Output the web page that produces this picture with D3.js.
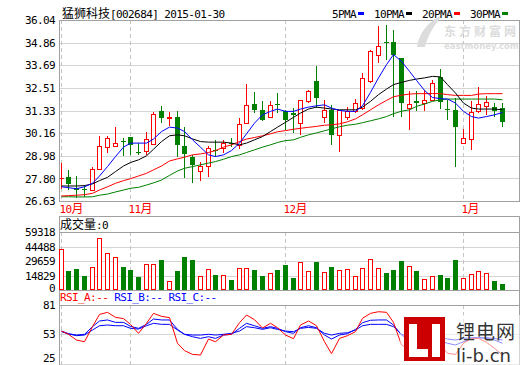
<!DOCTYPE html>
<html>
<head>
<meta charset="utf-8">
<script src="https://cdn.jsdelivr.net/npm/d3@7"></script>
<style>
body{margin:0;background:#fff}
svg{display:block}
text{font-family:"DejaVu Sans Mono",monospace;font-size:11px;letter-spacing:-0.6px}
.cjk{font-family:"Noto Sans CJK SC",sans-serif;font-size:12px;letter-spacing:0}
</style>
</head>
<body>
<svg id="chart" width="520" height="365"></svg>
<script>
//title and legend
var stockName = "猛狮科技";
var stockCode = "[002684] 2015-01-30";
var maNames = ["5PMA", "10PMA", "20PMA", "30PMA"];

//month labels and the index of the first trading day of each month
var monthLabels = ["10", "11", "12", "1"];
var monthStart = [0, 9, 29, 52];

//daily prices, one value per trading day
var open = [27.80,27.87,27.28,27.25,27.18,28.31,29.46,29.50,29.73,29.95,
            29.20,29.24,29.60,31.32,30.97,31.02,29.48,28.91,28.18,28.44,
            29.30,29.37,29.67,29.55,30.71,31.69,31.37,30.99,31.65,31.29,
            31.22,30.71,31.81,32.85,30.99,31.37,30.04,31.01,31.32,31.46,
            32.85,34.24,34.90,34.88,34.07,31.46,31.81,31.72,31.89,33.08,
            31.43,31.37,29.64,29.85,31.29,31.58,31.51,31.46];
var close = [27.85,27.50,27.18,27.21,28.30,29.50,29.90,29.64,29.71,29.53,
             29.12,29.85,31.17,30.97,31.02,29.55,29.06,28.51,28.45,29.38,
             29.27,29.67,29.64,30.63,31.63,31.37,30.85,31.63,31.62,30.85,
             31.11,31.86,32.33,31.98,31.37,30.04,31.35,31.32,31.72,33.03,
             34.41,34.67,34.87,34.24,31.72,31.67,31.72,31.89,32.77,31.79,
             31.39,30.50,29.90,31.25,31.67,31.78,31.29,30.76];
var high = [28.61,28.25,27.93,27.46,28.38,30.02,30.02,30.50,29.89,29.98,
            29.64,30.24,31.25,31.55,31.24,31.32,30.49,29.03,28.64,29.48,
            29.81,29.81,29.89,30.94,32.73,32.30,31.81,31.84,32.24,31.37,
            31.48,31.89,32.42,33.64,31.89,31.63,31.37,31.53,31.93,33.29,
            34.50,35.72,35.78,35.54,34.08,32.33,32.33,32.42,32.94,33.50,
            31.89,31.98,30.37,31.81,32.56,32.07,31.75,31.72];
var low = [27.25,27.20,26.79,26.86,27.15,28.25,29.12,29.43,28.95,29.03,
           29.03,29.03,29.55,30.68,30.54,28.94,27.85,27.57,27.67,27.90,
           28.94,29.13,29.44,29.31,30.68,31.20,30.80,30.94,31.20,30.33,
           30.17,30.04,31.72,31.48,30.68,29.55,29.18,30.85,31.20,31.37,
           32.77,33.81,33.98,31.02,31.02,30.33,31.29,31.29,31.81,31.43,
           30.85,28.42,29.62,29.29,31.20,31.11,31.02,30.47];
var volume = [41600,19400,21150,14300,23200,52900,37500,33400,23500,20450,
              13300,26600,26600,30700,8900,19400,33750,30700,14000,21150,
              15300,15000,10200,22200,22200,20450,14300,17400,20450,25550,
              12300,28650,19400,28650,18400,23500,20450,21500,14300,22500,
              31700,22500,17400,20450,29650,24550,19400,11250,14300,15300,
              12300,30700,12300,16350,19400,17400,9200,6100];

//moving averages
var ma5 = [27.37,27.32,27.27,27.37,27.55,27.93,28.42,28.94,29.43,29.64,
           29.64,29.64,29.85,30.24,30.47,30.42,30.24,29.81,29.43,29.03,
           28.94,29.03,29.25,29.64,30.12,30.68,31.11,31.29,31.41,31.29,
           31.29,31.41,31.51,31.58,31.63,31.46,31.34,31.29,31.29,31.58,
           32.28,33.03,33.72,34.24,33.89,33.37,32.90,32.38,32.01,31.95,
           31.93,31.72,31.29,31.02,30.94,31.02,31.11,31.23];
var ma10 = [27.41,27.41,27.41,27.43,27.52,27.69,27.86,28.16,28.45,28.63,
            28.77,28.98,29.32,29.72,30.02,30.07,30.02,29.86,29.72,29.69,
            29.69,29.69,29.64,29.55,29.64,29.81,29.98,30.24,30.47,30.72,
            30.98,31.20,31.41,31.51,31.46,31.41,31.37,31.37,31.37,31.51,
            31.81,32.16,32.45,32.68,32.80,32.90,32.97,33.03,33.11,33.08,
            32.68,32.24,31.72,31.46,31.41,31.41,31.41,31.37];
var ma20 = [26.89,26.91,26.93,26.96,27.03,27.20,27.37,27.55,27.69,27.79,
            27.93,28.07,28.25,28.45,28.71,28.82,28.91,29.03,29.08,29.15,
            29.25,29.43,29.55,29.72,29.85,29.93,30.02,30.12,30.23,30.29,
            30.36,30.41,30.46,30.51,30.57,30.59,30.64,30.75,30.90,31.11,
            31.37,31.63,31.86,32.05,32.13,32.19,32.21,32.21,32.22,32.21,
            32.16,32.12,32.12,32.12,32.19,32.21,32.21,32.21];
var ma30 = [26.85,26.85,26.84,26.84,26.85,26.93,26.99,27.10,27.20,27.29,
            27.34,27.46,27.57,27.72,27.96,28.19,28.33,28.42,28.51,28.60,
            28.68,28.80,28.94,29.03,29.15,29.29,29.43,29.55,29.67,29.77,
            29.81,29.94,30.07,30.17,30.28,30.38,30.49,30.57,30.62,30.70,
            30.80,30.90,31.02,31.17,31.30,31.37,31.55,31.67,31.81,31.89,
            31.93,31.93,31.93,31.93,31.93,31.93,31.93,31.89];

//rsi lines
var rsiA = [56.1,53.0,47.5,45.9,60.3,72.0,74.0,69.2,68.0,62.5,
            53.9,63.5,73.0,70.2,68.9,44.4,37.4,33.8,33.2,48.5,
            45.9,52.3,53.0,64.1,71.4,67.0,59.0,63.5,59.3,52.3,
            48.8,61.9,65.7,61.2,45.9,34.5,49.1,51.7,55.5,68.3,
            73.0,74.6,74.0,64.4,42.8,38.0,36.4,34.8,36.4,42.8,
            34.8,33.8,44.4,49.1,49.1,45.3,39.6,33.2];
var rsiB = [56.1,53.6,52.3,53.0,60.3,65.7,66.7,64.4,64.4,60.6,
            58.7,62.5,67.6,66.7,66.7,57.7,53.0,50.7,49.1,50.7,
            49.1,52.3,53.0,58.7,63.5,61.2,58.7,60.3,58.7,55.5,
            53.9,59.3,61.2,59.3,52.3,48.5,52.3,53.6,57.7,64.1,
            66.4,66.7,66.7,61.9,52.3,47.5,46.6,46.6,47.5,46.6,
            44.4,42.8,45.9,49.1,49.7,49.1,47.5,44.4];
var rsiC = [55.5,53.3,51.7,52.3,57.1,61.2,61.9,61.2,61.2,58.7,
            58.0,61.2,63.5,62.5,62.5,57.1,53.0,52.3,52.3,53.0,
            52.3,53.0,53.9,56.1,60.3,59.3,57.7,59.3,57.7,56.1,
            55.5,58.7,59.6,58.7,53.9,52.3,53.9,54.5,57.1,61.2,
            62.5,62.5,62.5,60.3,53.0,50.7,50.7,50.7,50.7,49.7,
            48.5,47.5,49.1,49.7,49.7,49.7,49.1,47.5];

//axis tick values
var priceTicks = [36.04,34.86,33.69,32.51,31.33,30.16,28.98,27.80,26.63];
var volTicks = [59318,44488,29659,14829,0];
var rsiTicks = [81,53,25];

var n = open.length;
var svg = d3.select("#chart");
var L = 59, R = 519;
var red = "#ff0000", green = "#008000", blue = "#0000ff";
var gridColor = "#d4d4d4", frameColor = "#a0a0a0", dashColor = "#c4c4c4";

//scales
var x = d3.scaleBand().domain(d3.range(n)).range([57.3, 57.3 + n * 7.735]);
var cx = function(i) { return Math.floor(x(i) + x.bandwidth() / 2) + 0.5; };
var y = d3.scaleLinear().domain([26.63, 36.04]).range([201, 20]);
var yVol = d3.scaleLinear().domain([0, 59318]).range([290, 232]);
var yRsi = d3.scaleLinear().domain([25, 81]).range([363.6, 305]);

//left axes with the grid lines
function panelAxis(scale, ticks, fmt) {
    return function(g) {
        g.attr("transform", "translate(" + L + ",0)")
            .call(d3.axisLeft(scale).tickValues(ticks).tickFormat(fmt).tickSize(-(R - L)).tickPadding(4))
            .call(function(a) { a.select(".domain").remove(); })
            .call(function(a) { a.selectAll(".tick line").attr("stroke", gridColor).attr("shape-rendering", "crispEdges"); })
            .call(function(a) { a.selectAll(".tick text").attr("fill", "#000"); });
    };
}
svg.append("g").call(panelAxis(y, priceTicks, d3.format(".2f")));
var volAxis = svg.append("g").call(panelAxis(yVol, volTicks, d3.format("d")));
volAxis.selectAll(".tick").filter(function(d) { return d === 0; }).select("text").attr("y", -2);
var rsiAxis = svg.append("g").call(panelAxis(yRsi, rsiTicks, d3.format("d")));
rsiAxis.selectAll(".tick").filter(function(d) { return d === 25; }).select("text").attr("y", -6);

//dashed month lines in every panel
var panels = [[20, 201], [232, 290], [305, 365]];
panels.forEach(function(p) {
    svg.append("g").selectAll("line").data(monthStart).join("line")
        .attr("x1", cx).attr("x2", cx)
        .attr("y1", p[0]).attr("y2", p[1])
        .attr("stroke", dashColor).attr("stroke-dasharray", "4,3")
        .attr("shape-rendering", "crispEdges");
});

//panel frames
var fr = svg.append("g").attr("stroke", frameColor).attr("fill", "none").attr("shape-rendering", "crispEdges");
fr.append("rect").attr("x", L + 0.5).attr("y", 20.5).attr("width", R - L).attr("height", 181);
[216.5, 232.5, 290.5, 305.5].forEach(function(v) {
    fr.append("line").attr("x1", L).attr("x2", R + 1).attr("y1", v).attr("y2", v);
});
fr.append("line").attr("x1", L + 0.5).attr("x2", L + 0.5).attr("y1", 216).attr("y2", 365);
fr.append("line").attr("x1", R + 0.5).attr("x2", R + 0.5).attr("y1", 216).attr("y2", 365);

//month labels
var ml = svg.append("g").selectAll("text").data(monthStart).join("text")
    .attr("x", function(d) { return cx(d) - 2; })
    .attr("y", 213)
    .attr("fill", red);
ml.append("tspan").text(function(d, i) { return monthLabels[i]; });
ml.append("tspan").attr("class", "cjk").text("月");

//watermark behind the marks
var wm = svg.append("g").attr("fill", "#dcdcdc");
wm.append("path").attr("d", "M417,47C419,33 428,21 443,15C434,25 428,35 425,47Z");
wm.append("text").attr("x", 444).attr("y", 36).attr("class", "cjk")
    .style("font-size", "12px").style("font-weight", "bold").style("letter-spacing", "3px").text("东方财富网");
wm.append("text").attr("x", 444).attr("y", 49)
    .style("font-family", "DejaVu Sans").style("font-size", "8.5px").style("font-weight", "bold")
    .attr("textLength", 74).text("eastmoney.com");

//candles
var isUp = function(i) { return close[i] >= open[i]; };
var kg = svg.append("g").attr("shape-rendering", "crispEdges");
kg.selectAll("line").data(d3.range(n)).join("line")
    .attr("x1", cx).attr("x2", cx)
    .attr("y1", function(i) { return y(high[i]); })
    .attr("y2", function(i) { return y(low[i]); })
    .attr("stroke", function(i) { return isUp(i) ? red : green; });
kg.selectAll("path").data(d3.range(n).filter(isUp)).join("path")
    .attr("d", function(i) {
        var t = Math.round(y(close[i])) + 0.5, b = Math.round(y(open[i])) + 0.5;
        return "M" + (cx(i) - 2) + "," + t + "h4V" + b + "h-4Z";
    })
    .attr("fill", "#fff").attr("stroke", red);
kg.selectAll("rect").data(d3.range(n).filter(function(i) { return !isUp(i); })).join("rect")
    .attr("x", function(i) { return cx(i) - 2.5; })
    .attr("width", 5)
    .attr("y", function(i) { return Math.round(y(open[i])); })
    .attr("height", function(i) { return Math.max(1, Math.round(y(close[i])) - Math.round(y(open[i]))); })
    .attr("fill", green);

//moving average lines
var maData = [ma30, ma20, ma10, ma5];
var maColors = [green, red, "#000", blue];
var priceLine = d3.line().x(function(d, i) { return cx(i); }).y(function(d) { return y(d); });
svg.append("g").selectAll("path").data(maData).join("path")
    .attr("d", priceLine)
    .attr("fill", "none")
    .attr("stroke", function(d, i) { return maColors[i]; })
    .attr("stroke-width", 1);

//volume bars
var vg = svg.append("g").attr("shape-rendering", "crispEdges");
vg.selectAll("path").data(d3.range(n).filter(isUp)).join("path")
    .attr("d", function(i) {
        var t = Math.round(yVol(volume[i])) + 0.5, b = Math.round(yVol(0)) - 0.5;
        return "M" + (cx(i) - 2) + "," + t + "h4V" + b + "h-4Z";
    })
    .attr("fill", "#fff").attr("stroke", red);
vg.selectAll("rect").data(d3.range(n).filter(function(i) { return !isUp(i); })).join("rect")
    .attr("x", function(i) { return cx(i) - 2.5; })
    .attr("width", 5)
    .attr("y", function(i) { return Math.round(yVol(volume[i])); })
    .attr("height", function(i) { return Math.round(yVol(0)) - Math.round(yVol(volume[i])); })
    .attr("fill", green);

//rsi lines
var rsiLine = d3.line().x(function(d, i) { return cx(i); }).y(function(d) { return yRsi(d); });
svg.append("g").selectAll("path").data([rsiC, rsiB, rsiA]).join("path")
    .attr("d", rsiLine)
    .attr("fill", "none")
    .attr("stroke", function(d, i) { return i < 2 ? blue : red; });

//texts on top
var title = svg.append("text").attr("x", 62).attr("y", 18);
title.append("tspan").attr("class", "cjk").text(stockName);
title.append("tspan").text(stockCode);

var volTitle = svg.append("text").attr("x", 60).attr("y", 229);
volTitle.append("tspan").attr("class", "cjk").text("成交量");
volTitle.append("tspan").text(":0");

var rsiTitle = svg.append("text").attr("x", 60).attr("y", 301).attr("xml:space", "preserve");
rsiTitle.append("tspan").attr("fill", red).text("RSI_A:-- ");
rsiTitle.append("tspan").attr("fill", blue).text("RSI_B:-- ");
rsiTitle.append("tspan").attr("fill", blue).text("RSI_C:--");

//legend of the moving averages
var legendColors = [blue, "#000", red, green];
var lx = 332;
maNames.forEach(function(name, i) {
    var t = svg.append("text").attr("x", lx).attr("y", 18).text(name);
    var w = t.node().getComputedTextLength();
    svg.append("rect").attr("x", Math.round(lx + w + 2)).attr("y", 12).attr("width", 6).attr("height", 3)
        .attr("fill", legendColors[i]);
    lx = Math.round(lx + w + 2) + 16;
});

//site logo in the corner
var lb = svg.append("g");
lb.append("rect").attr("x", 400).attr("y", 315).attr("width", 120).attr("height", 50).attr("fill", "#fff").attr("opacity", 0.55);
lb.append("rect").attr("x", 404).attr("y", 317).attr("width", 41).attr("height", 44).attr("fill", "#cc0000");
lb.append("rect").attr("x", 409).attr("y", 324).attr("width", 8).attr("height", 33).attr("fill", "#fff");
lb.append("rect").attr("x", 409).attr("y", 349).attr("width", 19).attr("height", 8).attr("fill", "#fff");
lb.append("rect").attr("x", 432).attr("y", 324).attr("width", 8).attr("height", 33).attr("fill", "#fff");
lb.append("text").attr("x", 456).attr("y", 339).attr("class", "cjk")
    .style("font-size", "19px").style("letter-spacing", "1px").attr("fill", "#333").text("锂电网");
lb.append("text").attr("x", 456).attr("y", 362)
    .style("font-family", "DejaVu Sans").style("font-size", "18px").style("letter-spacing", "0")
    .attr("fill", "#333").text("li-b.cn");
</script>
</body>
</html>
